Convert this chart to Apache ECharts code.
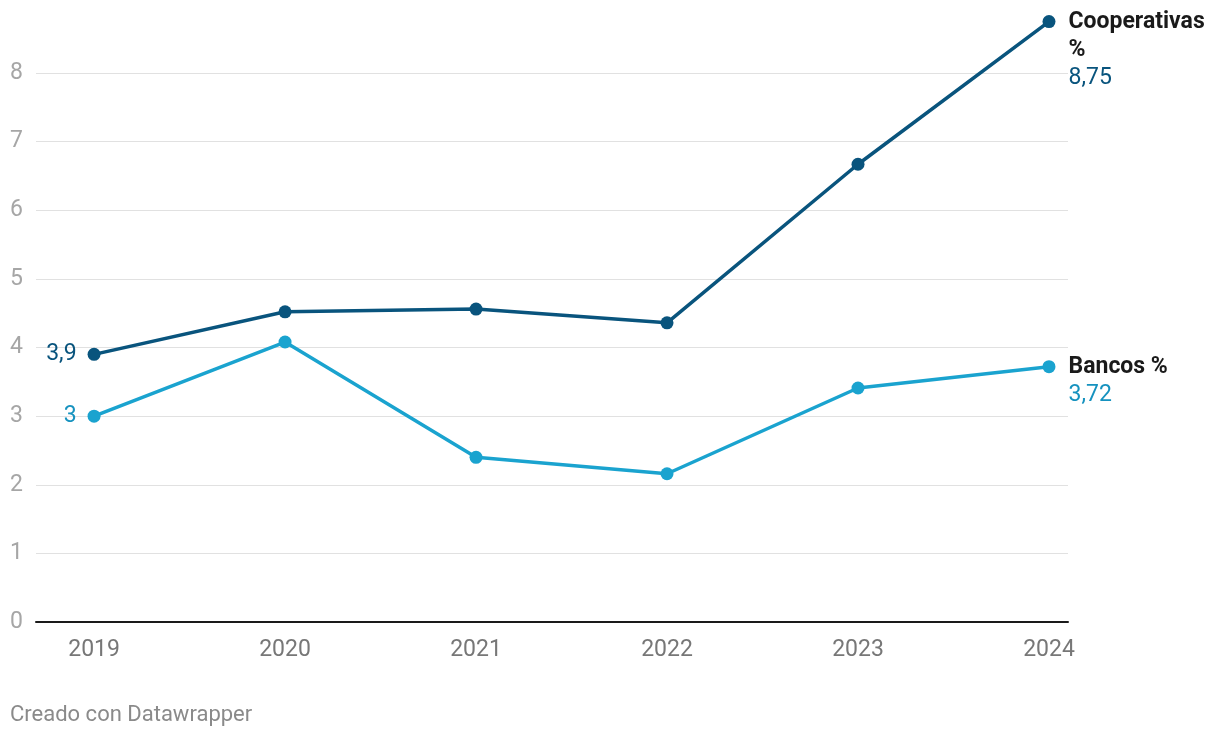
<!DOCTYPE html>
<html>
<head>
<meta charset="utf-8">
<script src="https://cdn.jsdelivr.net/npm/echarts@6/dist/echarts.min.js"></script>
<style>
  html, body { margin: 0; padding: 0; background: #fff; }
  #chart { width: 1220px; height: 738px; }
</style>
</head>
<body>
<div id="chart"></div>
<script>
const years = [2019, 2020, 2021, 2022, 2023, 2024];
const cooperativas = [3.9, 4.52, 4.56, 4.36, 6.67, 8.75];
const bancos = [3.0, 4.08, 2.4, 2.16, 3.41, 3.72];
const yTicks = [0, 1, 2, 3, 4, 5, 6, 7, 8];

const COOP = "#09547d";
const BANC = "#1aa3cf";
const BANC_TEXT = "#1692bf";

function fmt(v) {
  return String(v).replace(".", ",");
}

// primer y último punto llevan etiqueta
function buildData(values, name, color) {
  return values.map((v, i) => {
    const item = { value: [years[i], v] };
    if (i === 0) {
      item.label = {
        show: true,
        position: "left",
        distance: 11,
        formatter: fmt(v),
        color: color,
        fontSize: 23,
      };
    } else if (i === values.length - 1) {
      const lines = name.split("\n").map((s) => "{b|" + s + "}").join("\n");
      item.label = {
        show: true,
        position: [26, -7],
        align: "left",
        verticalAlign: "top",
        formatter: lines + "\n{v|" + fmt(v) + "}",
        rich: {
          b: { fontSize: 23, fontWeight: "bold", color: "#1a1a1a", lineHeight: 28 },
          v: { fontSize: 23, color: color, lineHeight: 28 },
        },
      };
    }
    return item;
  });
}

const chart = echarts.init(document.getElementById("chart"));
chart.setOption({
  animation: false,
  textStyle: { fontFamily: "Roboto" },
  grid: { left: 36, right: 152, top: 73, bottom: 116 },
  graphic: [
    {
      type: "text",
      left: 10,
      top: 704,
      style: { text: "Creado con Datawrapper", fill: "#8a8a8a", fontSize: 22, fontFamily: "Roboto" },
    },
  ],
  xAxis: {
    type: "value",
    min: 2018.696,
    max: 2024.0995,
    splitLine: { show: false },
    axisLine: { show: true, onZero: false, lineStyle: { color: "#1a1a1a", width: 2 } },
    axisTick: { show: false },
    axisLabel: {
      customValues: years,
      formatter: (v) => String(v),
      color: "#777",
      fontSize: 23,
      margin: 17,
    },
  },
  yAxis: {
    type: "value",
    min: 0,
    max: 8,
    interval: 1,
    axisLine: { show: false },
    axisTick: { show: false },
    splitLine: { lineStyle: { color: "#e1e1e1", width: 1 } },
    axisLabel: {
      customValues: yTicks,
      color: "#a6a6a6",
      fontSize: 23,
      align: "left",
      margin: 26,
    },
  },
  series: [
    {
      name: "Cooperativas %",
      type: "line",
      clip: false,
      data: buildData(cooperativas, "Cooperativas\n%", COOP),
      symbol: "circle",
      symbolSize: 13,
      lineStyle: { color: COOP, width: 3.5 },
      itemStyle: { color: COOP },
      z: 3,
    },
    {
      name: "Bancos %",
      type: "line",
      clip: false,
      data: buildData(bancos, "Bancos %", BANC_TEXT),
      symbol: "circle",
      symbolSize: 13,
      lineStyle: { color: BANC, width: 3.5 },
      itemStyle: { color: BANC },
      z: 2,
    },
  ],
});
</script>
</body>
</html>
